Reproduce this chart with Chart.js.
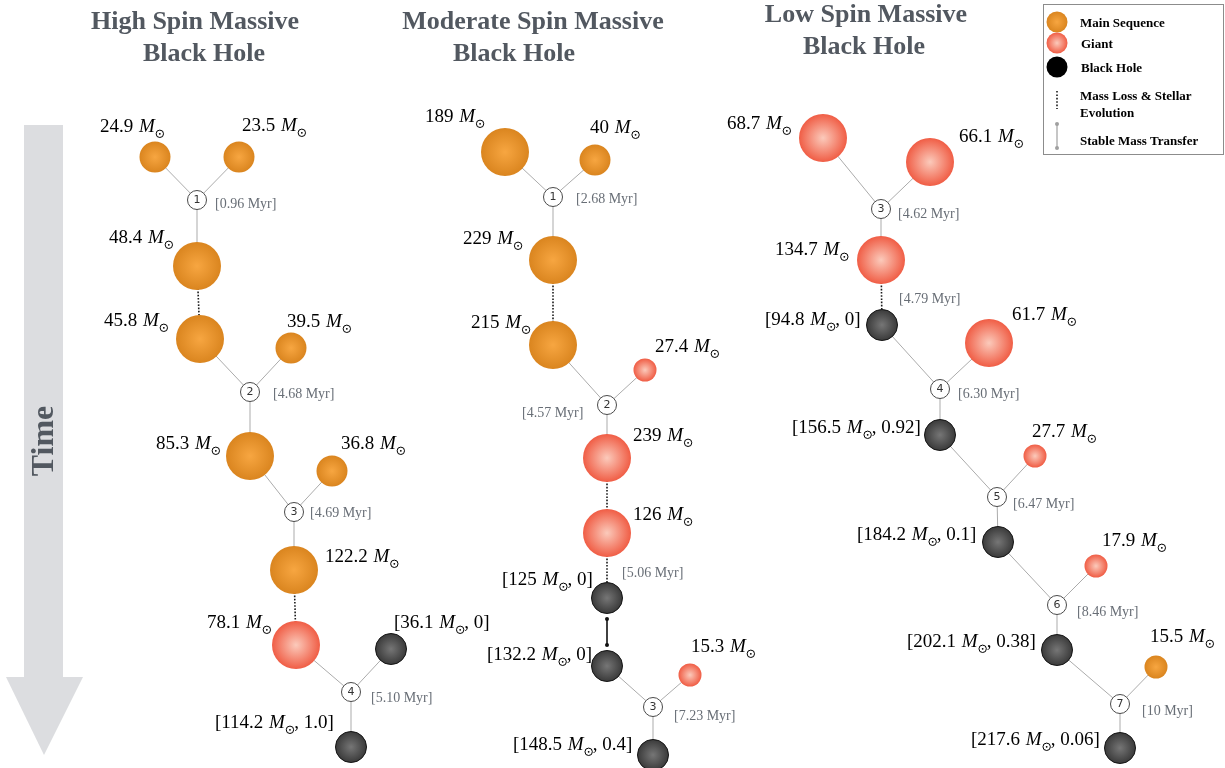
<!DOCTYPE html>
<html>
<head>
<meta charset="utf-8">
<title>Massive black hole formation channels</title>
<script src="https://cdn.jsdelivr.net/npm/chart.js"></script>
<style>
  html, body { margin: 0; padding: 0; background: #ffffff; }
  #wrap { width: 1225px; height: 768px; position: relative; }
</style>
</head>
<body>
<div id="wrap"><canvas id="tree"></canvas></div>
<script>
// ---- Stars and black holes (one entry per node) ----
// layout position in diagram units (x across, y downward in time)
const nodeX = [155, 239, 197, 200, 291, 250, 332, 294, 296, 391, 351,
               505, 595, 553, 553, 645, 607, 607, 607, 607, 690, 653,
               823, 930, 881, 882, 989, 940, 1035, 998, 1096, 1057, 1156, 1120];
const nodeY = [157, 157, 266, 339, 348, 456, 471, 570, 645, 649, 747,
               152, 160, 260, 345, 370, 458, 533, 598, 666, 675, 755,
               138, 162, 260, 325, 343, 435, 456, 542, 566, 650, 667, 748];
// evolutionary stage: ms = main sequence, giant, bh = black hole
const nodeKind = ['ms', 'ms', 'ms', 'ms', 'ms', 'ms', 'ms', 'ms', 'giant', 'bh', 'bh',
                  'ms', 'ms', 'ms', 'ms', 'giant', 'giant', 'giant', 'bh', 'bh', 'giant', 'bh',
                  'giant', 'giant', 'giant', 'bh', 'giant', 'bh', 'giant', 'bh', 'giant', 'bh', 'ms', 'bh'];
// marker class: L = primary, M = companion / black hole, S = light companion
const nodeSize = ['M', 'M', 'L', 'L', 'M', 'L', 'M', 'L', 'L', 'M', 'M',
                  'L', 'M', 'L', 'L', 'S', 'L', 'L', 'M', 'M', 'S', 'M',
                  'L', 'L', 'L', 'M', 'L', 'M', 'S', 'M', 'S', 'M', 'S', 'M'];
// mass in solar masses
const nodeMass = [24.9, 23.5, 48.4, 45.8, 39.5, 85.3, 36.8, 122.2, 78.1, 36.1, 114.2,
                  189, 40, 229, 215, 27.4, 239, 126, 125, 132.2, 15.3, 148.5,
                  68.7, 66.1, 134.7, 94.8, 61.7, 156.5, 27.7, 184.2, 17.9, 202.1, 15.5, 217.6];
// dimensionless black hole spin (null for stars)
const nodeSpin = [null, null, null, null, null, null, null, null, null, '0', '1.0',
                  null, null, null, null, null, null, null, '0', '0', null, '0.4',
                  null, null, null, '0', null, '0.92', null, '0.1', null, '0.38', null, '0.06'];
// mass label placement (left edge, baseline)
const labelX = [100, 242, 109, 104, 287, 156, 341, 325, 207, 394, 215,
                425, 590, 463, 471, 655, 633, 633, 502, 487, 691, 513,
                727, 959, 775, 765, 1012, 792, 1032, 857, 1102, 907, 1150, 971];
const labelY = [132, 131, 243, 326, 327, 449, 449, 562, 628, 628, 728,
                122, 133, 244, 328, 352, 441, 520, 585, 660, 652, 750,
                129, 142, 255, 325, 320, 433, 437, 540, 546, 647, 642, 745];

// ---- Mergers / collisions ----
const mergeStep = [1, 2, 3, 4, 1, 2, 3, 3, 4, 5, 6, 7];
const mergeTime = ['0.96', '4.68', '4.69', '5.10', '2.68', '4.57', '7.23',
                   '4.62', '6.30', '6.47', '8.46', '10'];
const mergeX = [197, 250, 294, 351, 553, 607, 653, 881, 940, 997, 1057, 1120];
const mergeY = [200, 392, 512, 692, 197, 405, 707, 209, 389, 497, 605, 704];
const mergeTimeX = [215, 273, 310, 371, 576, 522, 674, 898, 958, 1013, 1077, 1142];
const mergeTimeY = [208, 398, 517, 702, 203, 417, 720, 218, 398, 508, 616, 715];
const mergeInA = [0, 3, 5, 8, 11, 14, 19, 22, 25, 27, 29, 31];
const mergeInB = [1, 4, 6, 9, 12, 15, 20, 23, 26, 28, 30, 32];
const mergeOut = [2, 5, 7, 10, 13, 16, 21, 24, 27, 29, 31, 33];

// ---- Mass loss & stellar evolution (dotted) and stable mass transfer ----
const evolveFrom = [2, 7, 13, 16, 17, 24];
const evolveTo = [3, 8, 14, 17, 18, 25];
const transferFrom = [18];
const transferTo = [19];
const collapseTime = ['5.06', '4.79'];
const collapseTimeX = [622, 899];
const collapseTimeY = [577, 303];

// ---- Column headings ----
const titleLine1 = ['High Spin Massive', 'Moderate Spin Massive', 'Low Spin Massive'];
const titleLine2 = ['Black Hole', 'Black Hole', 'Black Hole'];
const titleX1 = [195, 533, 866];
const titleX2 = [204, 514, 864];
const titleY1 = [29, 29, 22];
const titleY2 = [61, 61, 54];

// ---- Legend entries ----
const legendText = ['Main Sequence', 'Giant', 'Black Hole', 'Mass Loss & Stellar', 'Evolution', 'Stable Mass Transfer'];

const RADIUS = { L: 24, M: 15.5, S: 11.5 };
const SHADE = {
  ms:    ['#f7a641', '#da851f'],
  giant: ['#fbcabb', '#f05d45'],
  bh:    ['#767676', '#3a3a3a']
};
const SERIF = '"Liberation Serif", "Times New Roman", serif';
const TITLE_GREY = '#525860';

function ballGradient(ctx, kind, px, py, r) {
  if (!isFinite(px) || !isFinite(py) || !isFinite(r)) return SHADE[kind][1];
  const g = ctx.createRadialGradient(px, py, 0, px, py, r);
  g.addColorStop(0, SHADE[kind][0]);
  g.addColorStop(1, SHADE[kind][1]);
  return g;
}

function nodePoints(kind) {
  const pts = [];
  nodeX.forEach((x, i) => {
    if (nodeKind[i] === kind) pts.push({ x: x, y: nodeY[i], s: nodeSize[i], k: kind });
  });
  return pts;
}

function nodeDataset(kind) {
  return {
    data: nodePoints(kind),
    order: 1,
    pointRadius: c => (c.raw ? RADIUS[c.raw.s] : 10),
    pointBackgroundColor: c => {
      if (!c.raw) return SHADE[kind][1];
      const ch = c.chart;
      if (!ch.scales || !ch.scales.x || !ch.scales.y) return SHADE[kind][1];
      const px = ch.scales.x.getPixelForValue(c.raw.x);
      const py = ch.scales.y.getPixelForValue(c.raw.y);
      return ballGradient(ch.ctx, kind, px, py, RADIUS[c.raw.s]);
    },
    pointBorderColor: kind === 'bh' ? '#151515' : SHADE[kind][1],
    pointBorderWidth: kind === 'bh' ? 1 : 0
  };
}

function segment(a, b, extra) {
  return Object.assign({
    data: [a, b],
    showLine: true,
    pointRadius: 0,
    borderColor: '#ababab',
    borderWidth: 1,
    order: 3
  }, extra || {});
}

const datasets = [];
// merger branches: both progenitors into the event, event down to the product
mergeX.forEach((mx, m) => {
  const ev = { x: mx, y: mergeY[m] };
  [mergeInA[m], mergeInB[m], mergeOut[m]].forEach(n => {
    datasets.push(segment({ x: nodeX[n], y: nodeY[n] }, ev));
  });
});
// dotted evolution links
evolveFrom.forEach((a, i) => {
  const b = evolveTo[i];
  datasets.push(segment({ x: nodeX[a], y: nodeY[a] }, { x: nodeX[b], y: nodeY[b] },
    { borderColor: '#1a1a1a', borderWidth: 1.6, borderDash: [1.6, 1.6], order: 2 }));
});
datasets.push(nodeDataset('ms'));
datasets.push(nodeDataset('giant'));
datasets.push(nodeDataset('bh'));
// merger event markers
datasets.push({
  data: mergeX.map((x, m) => ({ x: x, y: mergeY[m] })),
  order: 0,
  pointRadius: 9.5,
  pointBackgroundColor: '#ffffff',
  pointBorderColor: '#4a4a4a',
  pointBorderWidth: 1
});

function drawMassLabel(ctx, left, base, mass, spin) {
  const reg = '19px ' + SERIF;
  const ita = 'italic 19px ' + SERIF;
  ctx.fillStyle = '#000';
  ctx.strokeStyle = '#000';
  ctx.textAlign = 'left';
  ctx.textBaseline = 'alphabetic';
  const pre = (spin === null ? '' : '[') + mass + ' ';
  ctx.font = reg;
  ctx.fillText(pre, left, base);
  let x = left + ctx.measureText(pre).width + 1;
  ctx.font = ita;
  ctx.fillText('M', x, base);
  x += ctx.measureText('M').width;
  // solar symbol as subscript
  const cx = x + 5, cy = base + 1.8;
  ctx.lineWidth = 1;
  ctx.beginPath(); ctx.arc(cx, cy, 3.7, 0, Math.PI * 2); ctx.stroke();
  ctx.beginPath(); ctx.arc(cx, cy, 0.9, 0, Math.PI * 2); ctx.fill();
  x = cx + 4.2;
  if (spin !== null) {
    ctx.font = reg;
    ctx.fillText(', ' + spin + ']', x, base);
  }
}

const annotations = {
  id: 'treeAnnotations',
  beforeDraw(chart) {
    const ctx = chart.ctx;
    ctx.save();
    // time arrow
    ctx.fillStyle = '#dcdde0';
    ctx.fillRect(24, 125, 39, 553);
    ctx.beginPath();
    ctx.moveTo(6, 677); ctx.lineTo(83, 677); ctx.lineTo(44, 755); ctx.closePath();
    ctx.fill();
    ctx.translate(44, 441);
    ctx.rotate(-Math.PI / 2);
    ctx.fillStyle = TITLE_GREY;
    ctx.font = 'bold 32px ' + SERIF;
    ctx.textAlign = 'center';
    ctx.textBaseline = 'middle';
    ctx.fillText('Time', 0, 1);
    ctx.restore();
  },
  afterDatasetsDraw(chart) {
    const ctx = chart.ctx;
    const sx = chart.scales.x, sy = chart.scales.y;
    ctx.save();

    // stable mass transfer links
    transferFrom.forEach((a, i) => {
      const b = transferTo[i];
      const x = sx.getPixelForValue(nodeX[a]);
      const y0 = sy.getPixelForValue(nodeY[a]) + RADIUS[nodeSize[a]] + 5.5;
      const y1 = sy.getPixelForValue(nodeY[b]) - RADIUS[nodeSize[b]] - 5.5;
      ctx.strokeStyle = '#111'; ctx.fillStyle = '#111'; ctx.lineWidth = 1.6;
      ctx.beginPath(); ctx.moveTo(x, y0); ctx.lineTo(x, y1); ctx.stroke();
      [y0, y1].forEach(yy => { ctx.beginPath(); ctx.arc(x, yy, 2, 0, Math.PI * 2); ctx.fill(); });
    });

    // merger numbers and times
    mergeX.forEach((mx, m) => {
      const px = sx.getPixelForValue(mx), py = sy.getPixelForValue(mergeY[m]);
      ctx.fillStyle = '#333';
      ctx.font = '11px "DejaVu Sans", sans-serif';
      ctx.textAlign = 'center';
      ctx.textBaseline = 'middle';
      ctx.fillText(String(mergeStep[m]), px, py + 0.5);
      ctx.fillStyle = '#686e76';
      ctx.font = '14px ' + SERIF;
      ctx.textAlign = 'left';
      ctx.textBaseline = 'alphabetic';
      ctx.fillText('[' + mergeTime[m] + ' Myr]', sx.getPixelForValue(mergeTimeX[m]), sy.getPixelForValue(mergeTimeY[m]));
    });
    collapseTime.forEach((t, i) => {
      ctx.fillStyle = '#686e76';
      ctx.font = '14px ' + SERIF;
      ctx.textAlign = 'left';
      ctx.fillText('[' + t + ' Myr]', sx.getPixelForValue(collapseTimeX[i]), sy.getPixelForValue(collapseTimeY[i]));
    });

    // mass / spin labels
    nodeMass.forEach((m, i) => {
      drawMassLabel(ctx, sx.getPixelForValue(labelX[i]), sy.getPixelForValue(labelY[i]), m, nodeSpin[i]);
    });
    ctx.restore();
  },
  afterDraw(chart) {
    const ctx = chart.ctx;
    ctx.save();
    // column headings
    ctx.fillStyle = TITLE_GREY;
    ctx.font = 'bold 26px ' + SERIF;
    ctx.textAlign = 'center';
    ctx.textBaseline = 'alphabetic';
    titleLine1.forEach((t, i) => {
      ctx.fillText(t, titleX1[i], titleY1[i]);
      ctx.fillText(titleLine2[i], titleX2[i], titleY2[i]);
    });

    // legend box
    ctx.strokeStyle = '#8c8c8c';
    ctx.lineWidth = 1;
    ctx.strokeRect(1043.5, 4.5, 180, 150);
    ctx.fillStyle = ballGradient(ctx, 'ms', 1057, 22, 10.5);
    ctx.beginPath(); ctx.arc(1057, 22, 10.5, 0, Math.PI * 2); ctx.fill();
    ctx.fillStyle = ballGradient(ctx, 'giant', 1057, 43, 10.5);
    ctx.beginPath(); ctx.arc(1057, 43, 10.5, 0, Math.PI * 2); ctx.fill();
    ctx.fillStyle = '#000';
    ctx.beginPath(); ctx.arc(1057, 67, 10.5, 0, Math.PI * 2); ctx.fill();
    // dotted sample
    ctx.strokeStyle = '#1a1a1a';
    ctx.lineWidth = 1.6;
    ctx.setLineDash([1.6, 1.8]);
    ctx.beginPath(); ctx.moveTo(1057, 91); ctx.lineTo(1057, 109); ctx.stroke();
    ctx.setLineDash([]);
    // transfer sample
    ctx.strokeStyle = '#a0a0a0'; ctx.fillStyle = '#a0a0a0'; ctx.lineWidth = 1.2;
    ctx.beginPath(); ctx.moveTo(1057, 124); ctx.lineTo(1057, 148); ctx.stroke();
    [124, 148].forEach(yy => { ctx.beginPath(); ctx.arc(1057, yy, 2, 0, Math.PI * 2); ctx.fill(); });

    ctx.fillStyle = '#000';
    ctx.font = 'bold 13px ' + SERIF;
    ctx.textAlign = 'left';
    const ly = [27, 48, 72, 100, 117, 145];
    const lx = [1080, 1081, 1081, 1080, 1080, 1080];
    legendText.forEach((t, i) => ctx.fillText(t, lx[i], ly[i]));
    ctx.restore();
  }
};

new Chart(document.getElementById('tree'), {
  type: 'scatter',
  data: { datasets: datasets },
  options: {
    responsive: true,
    maintainAspectRatio: false,
    animation: false,
    events: [],
    layout: { padding: 0, autoPadding: false },
    plugins: { legend: { display: false }, tooltip: { enabled: false } },
    scales: {
      x: { type: 'linear', min: 0, max: 1225, display: false },
      y: { type: 'linear', min: 0, max: 768, reverse: true, display: false }
    }
  },
  plugins: [annotations]
});
</script>
</body>
</html>
